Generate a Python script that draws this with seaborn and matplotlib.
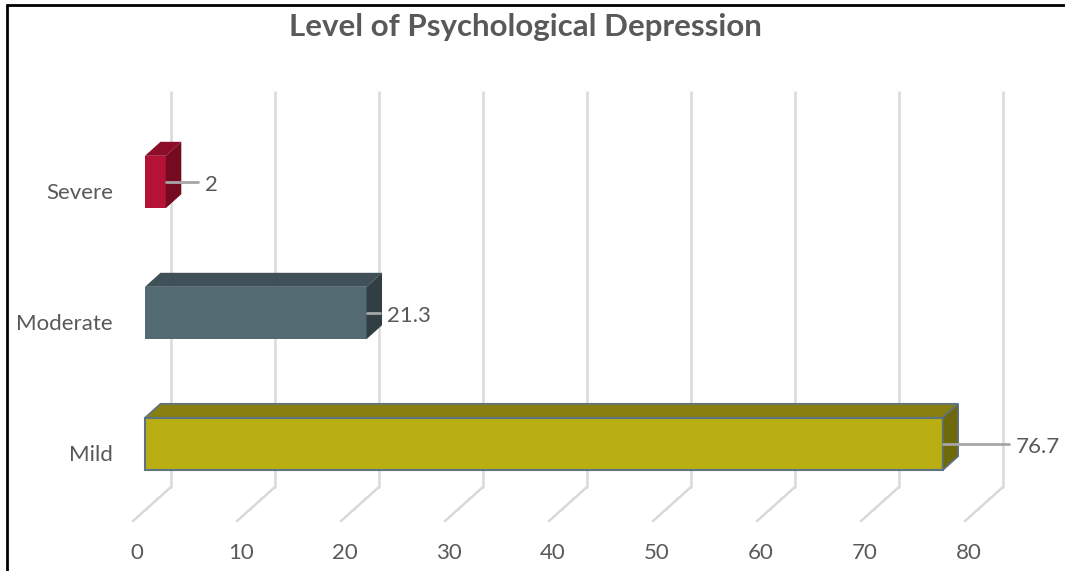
#Imports
import matplotlib
matplotlib.use('Agg')
import matplotlib.pyplot as plt
from matplotlib.patches import Polygon
import seaborn as sns

#Dados do gráfico
niveis = ['Severe', 'Moderate', 'Mild']
percentuais = [2, 21.3, 76.7]
rotulos_valor = ['2', '21.3', '76.7']
ticks_x = [0, 10, 20, 30, 40, 50, 60, 70, 80]

#Cores: frente, topo e lateral de cada barra
cor_frente = ['#B51237', '#536A73', '#B8AE12']
cor_topo = ['#8C0C2A', '#3F5058', '#878010']
cor_lado = ['#760A20', '#313E44', '#6E690A']

sns.set_theme(style='white')
plt.rcParams['font.family'] = ['Lato', 'DejaVu Sans']
cinza = '#595959'

fig = plt.figure(figsize=(10.65, 5.71), dpi=100)
ax = fig.add_axes([0, 0, 1, 1])

#Escala: 10.4 px por unidade, zero da face frontal em x=145 px
px_x = 10.4
px_y = 131
ax.set_xlim(-145 / px_x, (1065 - 145) / px_x)

sns.barplot(x=percentuais, y=niveis, hue=niveis, palette=cor_frente,
            width=0.4, orient='h', legend=False, saturation=1,
            edgecolor='none', ax=ax, zorder=3)
ax.set_ylim((571 - 182) / px_y, -182 / px_y)
ax.axis('off')

#Profundidade 3D das barras
dx = 15.5 / px_x
dy = -14 / px_y
for i, p in enumerate(ax.patches):
    x0, y0 = p.get_x(), p.get_y()
    w, h = p.get_width(), p.get_height()
    topo = Polygon([(x0, y0), (x0 + w, y0), (x0 + w + dx, y0 + dy), (x0 + dx, y0 + dy)],
                   closed=True, facecolor=cor_topo[i], edgecolor='none', zorder=2.9)
    lado = Polygon([(x0 + w, y0), (x0 + w + dx, y0 + dy), (x0 + w + dx, y0 + h + dy), (x0 + w, y0 + h)],
                   closed=True, facecolor=cor_lado[i], edgecolor='none', zorder=3.1)
    ax.add_patch(topo)
    ax.add_patch(lado)
    if niveis[i] == 'Mild':
        p.set_edgecolor('#5D7283')
        p.set_linewidth(1.5)
        topo.set_edgecolor('#5D7283'); topo.set_linewidth(1.2)
        lado.set_edgecolor('#5D7283'); lado.set_linewidth(1.2)

#Grade no fundo e linhas do piso
gx = 26 / px_x
g_top = (92 - 182) / px_y
g_bot = (487 - 182) / px_y
f_dx = -38 / px_x
f_bot = (521 - 182) / px_y
for t in ticks_x:
    ax.plot([t + gx, t + gx], [g_top, g_bot], color='#D9D9D9', lw=1.8, zorder=1)
    ax.plot([t + gx, t + gx + f_dx], [g_bot, f_bot], color='#D9D9D9', lw=1.8, zorder=1)
    ax.text(t - 8 / px_x, (553 - 182) / px_y, str(t), ha='center', va='center',
            fontsize=16, color=cinza)

#Rótulos das categorias
for i, nome in enumerate(niveis):
    ax.text(-32 / px_x, i + 11 / px_y, nome, ha='right', va='center',
            fontsize=16, color=cinza)

#Rótulos dos valores com linha guia
desloc = [32, 13, 66]
for i, v in enumerate(percentuais):
    ax.plot([v, v + desloc[i] / px_x], [i, i], color='#A6A6A6', lw=2, zorder=4)
    ax.text(v + (desloc[i] + 7) / px_x, i + 3 / px_y, rotulos_valor[i],
            ha='left', va='center', fontsize=16, color=cinza)

#Título
fig.text(525 / 1065, 1 - 27 / 571, 'Level of Psychological Depression', ha='center', va='center',
         fontsize=22.5, fontweight='bold', color=cinza)

#Moldura
fig.add_artist(plt.Line2D([7 / 1065, 7 / 1065], [0, 1 - 5 / 571], color='black', lw=2))
fig.add_artist(plt.Line2D([7 / 1065, 1], [1 - 5 / 571, 1 - 5 / 571], color='black', lw=2))

fig.savefig('out.png', dpi=100)
